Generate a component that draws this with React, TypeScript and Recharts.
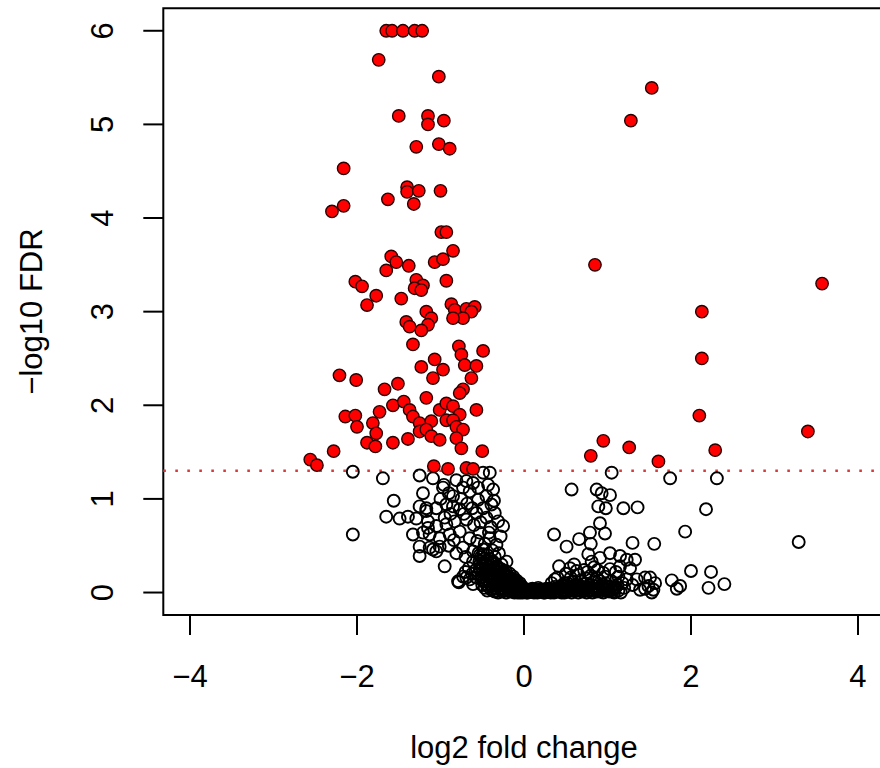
import { ReferenceArea, ReferenceLine, Scatter, ScatterChart, XAxis, YAxis } from "recharts";

// axis setup (R-style: limits padded by 4%)
const xTicks = [-4, -2, 0, 2, 4];
const yTicks = [0, 1, 2, 3, 4, 5, 6];
const xDomain: [number, number] = [-4.32, 4.32];
const yDomain: [number, number] = [-0.24, 6.24];
const fdrCutoff = 1.301;

// significant genes, [log2 fold change, -log10 FDR]
const sigDown: [number, number][] = [
  [-1.65, 6.0], [-1.58, 6.0], [-1.45, 6.0], [-1.31, 6.0], [-1.22, 6.0],
  [-1.74, 5.69], [-1.02, 5.51], [-1.5, 5.09], [-1.15, 5.09], [-1.15, 5.0], [-0.96, 5.04],
  [-1.29, 4.76], [-1.02, 4.79], [-0.89, 4.74], [-2.16, 4.53], [-1.4, 4.33], [-1.4, 4.28],
  [-1.26, 4.29], [-1.0, 4.29], [-1.63, 4.2], [-1.32, 4.15], [-2.16, 4.13], [-2.3, 4.07],
  [-0.99, 3.85], [-0.93, 3.85], [-0.85, 3.65], [-1.07, 3.53], [-0.97, 3.56], [-1.59, 3.59],
  [-1.53, 3.53], [-1.65, 3.44], [-1.38, 3.49], [-2.02, 3.32], [-1.94, 3.27], [-1.29, 3.34],
  [-1.21, 3.28], [-1.31, 3.25], [-1.23, 3.23], [-0.93, 3.33], [-1.77, 3.17], [-1.88, 3.07],
  [-1.47, 3.14], [-0.87, 3.08], [-0.83, 3.02], [-0.69, 3.03], [-0.59, 3.05], [-0.63, 3.0],
  [-0.73, 2.93], [-0.85, 2.93], [-1.17, 3.0], [-1.11, 2.93], [-1.15, 2.86], [-1.23, 2.8],
  [-1.41, 2.89], [-1.37, 2.84], [-1.33, 2.65], [-0.78, 2.63], [-0.75, 2.54], [-0.49, 2.58],
  [-1.07, 2.49], [-0.97, 2.38], [-1.09, 2.29], [-1.23, 2.41], [-0.71, 2.43], [-0.57, 2.42],
  [-0.63, 2.29], [-2.21, 2.32], [-2.01, 2.27], [-1.67, 2.17], [-1.51, 2.23], [-0.73, 2.17],
  [-0.77, 2.13], [-1.17, 2.08], [-1.57, 2.0], [-1.44, 2.04], [-1.37, 1.95], [-1.33, 1.88],
  [-1.25, 1.81], [-1.25, 1.72], [-1.11, 1.83], [-1.17, 1.74], [-1.01, 1.95], [-0.93, 2.02],
  [-0.85, 1.99], [-0.77, 1.9], [-0.93, 1.84], [-0.85, 1.84], [-0.81, 1.77], [-0.73, 1.74],
  [-0.57, 1.95], [-2.14, 1.88], [-2.02, 1.89], [-2.0, 1.77], [-1.73, 1.93], [-1.81, 1.81],
  [-1.77, 1.7], [-1.88, 1.6], [-1.78, 1.56], [-1.57, 1.6], [-1.39, 1.64], [-1.11, 1.67],
  [-1.01, 1.63], [-0.81, 1.65], [-0.75, 1.54], [-0.5, 1.51], [-2.28, 1.51], [-2.56, 1.42],
  [-2.48, 1.36], [-1.08, 1.35], [-0.91, 1.32], [-0.69, 1.33], [-0.61, 1.32],
];

const sigUp: [number, number][] = [
  [1.53, 5.39], [1.28, 5.04], [0.85, 3.5], [3.57, 3.3], [2.13, 3.0], [2.13, 2.5],
  [2.1, 1.89], [3.4, 1.72], [0.95, 1.62], [1.26, 1.55], [2.29, 1.52], [0.8, 1.46], [1.61, 1.4],
];

// not significant, left cloud
const nsLeft: [number, number][] = [
  [-2.05, 1.29], [-1.69, 1.22], [-1.56, 0.98], [-1.65, 0.81], [-1.49, 0.79], [-1.39, 0.81],
  [-1.29, 0.79], [-2.05, 0.62], [-1.25, 1.25], [-1.21, 1.06], [-1.25, 0.92], [-1.17, 0.9],
  [-1.33, 0.62], [-1.25, 0.49], [-1.25, 0.39], [-1.09, 1.22], [-0.96, 1.15], [-0.49, 1.28],
  [-0.41, 1.28], [-0.81, 1.2], [-0.69, 1.19], [-1.15, 0.69], [-1.13, 0.62], [-1.09, 0.46],
  [-1.01, 0.49], [-0.95, 0.28], [-0.78, 0.11], [-0.69, 0.16], [-0.61, 0.09], [-0.97, 1.12],
  [-0.65, 1.08], [-0.73, 1.12], [-0.61, 1.17], [-0.85, 1.03], [-0.93, 0.94], [-1.05, 0.9],
  [-0.85, 0.92], [-0.77, 0.89], [-0.55, 0.99], [-0.45, 1.03], [-0.39, 0.94], [-0.49, 0.9],
  [-0.57, 0.85], [-0.35, 0.85], [-0.31, 0.76], [-0.25, 0.71], [-1.17, 0.87], [-1.15, 0.76],
  [-1.21, 0.64], [-1.05, 0.71], [-0.93, 0.73], [-0.83, 0.76], [-0.69, 0.78], [-1.01, 0.58],
  [-0.89, 0.62], [-0.77, 0.65], [-0.65, 0.58], [-0.53, 0.64], [-0.41, 0.58], [-0.33, 0.51],
  [-1.13, 0.48], [-1.05, 0.44], [-0.81, 0.42], [-0.73, 0.48], [-0.61, 0.44], [-0.49, 0.46],
  [-0.61, 0.33], [-0.53, 0.26], [-0.45, 0.3], [-0.37, 0.33], [-0.27, 0.3], [-0.21, 0.33],
  [-0.79, 0.12], [-0.73, 0.17], [-0.65, 0.14], [-0.57, 0.16], [-0.49, 0.12], [-1.0, 1.0],
  [-0.9, 1.06], [-0.75, 1.0], [-0.68, 0.95], [-0.62, 0.9], [-0.72, 0.84], [-0.95, 0.8],
  [-0.88, 0.84], [-0.6, 0.72], [-0.52, 0.75], [-0.45, 0.8], [-0.4, 0.7], [-0.56, 0.55],
  [-0.47, 0.52], [-0.38, 0.45], [-0.3, 0.42], [-0.7, 0.38], [-0.9, 0.5], [-0.84, 0.56],
  [-0.43, 1.15], [-0.55, 1.12], [-0.37, 1.1], [-0.42, 0.64], [-0.28, 0.6], [-0.36, 0.98],
];

// not significant, dense core just left of zero
const nsCore: [number, number][] = [
  [-0.48, 0.36], [-0.46, 0.22], [-0.44, 0.4], [-0.43, 0.18], [-0.42, 0.27], [-0.41, 0.12],
  [-0.4, 0.35], [-0.39, 0.21], [-0.38, 0.08], [-0.37, 0.25], [-0.36, 0.15], [-0.35, 0.38],
  [-0.34, 0.05], [-0.33, 0.19], [-0.32, 0.28], [-0.31, 0.11], [-0.3, 0.22], [-0.29, 0.04],
  [-0.28, 0.16], [-0.27, 0.25], [-0.26, 0.09], [-0.25, 0.19], [-0.24, 0.02], [-0.23, 0.13],
  [-0.22, 0.23], [-0.21, 0.06], [-0.2, 0.16], [-0.19, 0.1], [-0.18, 0.02], [-0.17, 0.2],
  [-0.16, 0.08], [-0.15, 0.13], [-0.14, 0.03], [-0.13, 0.17], [-0.12, 0.06], [-0.11, 0.1],
  [-0.1, 0.01], [-0.09, 0.13], [-0.08, 0.05], [-0.07, 0.08], [-0.06, 0.02], [-0.05, 0.1],
  [-0.04, 0.04], [-0.03, 0.07], [-0.02, 0.01], [-0.01, 0.05], [-0.55, 0.2], [-0.52, 0.31],
  [-0.5, 0.08], [-0.47, 0.05], [-0.45, 0.14], [-0.53, 0.4], [-0.58, 0.24], [-0.62, 0.2],
  [-0.66, 0.26], [-0.7, 0.22], [-0.44, 0.02], [-0.39, 0.03], [-0.35, 0.01], [-0.31, 0.0],
  [-0.27, 0.03],
  [-0.545, 0.42], [-0.535, 0.33], [-0.525, 0.24], [-0.515, 0.38], [-0.505, 0.17], [-0.495, 0.29],
  [-0.485, 0.41], [-0.475, 0.13], [-0.465, 0.31], [-0.455, 0.24], [-0.445, 0.09], [-0.435, 0.34],
  [-0.425, 0.06], [-0.415, 0.2], [-0.405, 0.29], [-0.395, 0.14], [-0.385, 0.31], [-0.375, 0.04],
  [-0.365, 0.19], [-0.355, 0.27], [-0.345, 0.1], [-0.335, 0.22], [-0.325, 0.02], [-0.315, 0.16],
  [-0.305, 0.26], [-0.295, 0.08], [-0.285, 0.2], [-0.275, 0.12], [-0.265, 0.01], [-0.255, 0.15],
  [-0.245, 0.22], [-0.235, 0.07], [-0.225, 0.17], [-0.215, 0.0], [-0.205, 0.11], [-0.195, 0.18],
  [-0.185, 0.06], [-0.175, 0.13], [-0.165, 0.01], [-0.155, 0.09], [-0.145, 0.15], [-0.135, 0.05],
  [-0.125, 0.11], [-0.115, 0.0], [-0.105, 0.07], [-0.095, 0.03], [-0.085, 0.1], [-0.075, 0.0],
  [-0.065, 0.06], [-0.055, 0.03], [-0.045, 0.0], [-0.035, 0.05], [-0.025, 0.02], [-0.015, 0.0],
  [-0.005, 0.03],
];

// not significant, band along zero
const nsBand: [number, number][] = [
  [0.0, 0.02], [0.03, 0.0], [0.05, 0.03], [0.08, 0.01], [0.1, 0.04], [0.12, 0.0],
  [0.15, 0.02], [0.17, 0.05], [0.2, 0.01], [0.22, 0.03], [0.25, 0.0], [0.27, 0.04],
  [0.3, 0.02], [0.32, 0.0], [0.35, 0.03], [0.37, 0.06], [0.4, 0.01], [0.42, 0.04],
  [0.45, 0.0], [0.47, 0.02], [0.5, 0.05], [0.52, 0.01], [0.55, 0.03], [0.57, 0.0],
  [0.6, 0.04], [0.62, 0.02], [0.65, 0.0], [0.67, 0.05], [0.7, 0.01], [0.72, 0.03],
  [0.75, 0.0], [0.77, 0.06], [0.8, 0.02], [0.82, 0.0], [0.85, 0.04], [0.87, 0.01],
  [0.9, 0.03], [0.92, 0.07], [0.95, 0.0], [0.97, 0.02], [1.0, 0.05], [1.02, 0.01],
  [1.05, 0.03], [1.08, 0.0], [1.1, 0.06], [1.13, 0.02], [1.16, 0.0],
  [0.015, 0.01], [0.045, 0.0], [0.065, 0.02], [0.09, 0.03], [0.11, 0.01], [0.135, 0.03],
  [0.16, 0.0], [0.185, 0.03], [0.21, 0.02], [0.235, 0.0], [0.26, 0.02], [0.285, 0.01],
  [0.31, 0.04], [0.335, 0.02], [0.36, 0.0], [0.385, 0.04], [0.41, 0.02], [0.435, 0.06],
  [0.46, 0.03], [0.485, 0.0], [0.51, 0.07], [0.535, 0.04], [0.56, 0.06], [0.585, 0.02],
  [0.61, 0.08], [0.635, 0.03], [0.66, 0.07], [0.685, 0.02], [0.71, 0.06], [0.735, 0.04],
  [0.76, 0.02], [0.785, 0.08], [0.81, 0.05], [0.835, 0.02], [0.86, 0.07], [0.885, 0.04],
  [0.91, 0.01], [0.935, 0.05], [0.96, 0.03], [0.985, 0.07], [1.01, 0.03], [1.035, 0.06],
  [1.06, 0.01], [1.09, 0.04], [1.12, 0.08],
];

// not significant, right cloud
const nsRight: [number, number][] = [
  [0.33, 0.1], [0.46, 0.08], [0.58, 0.12], [0.7, 0.09], [0.74, 0.15], [0.83, 0.11],
  [0.9, 0.13], [0.98, 0.1], [1.05, 0.12], [0.62, 0.07], [0.52, 0.1],
  [0.4, 0.16], [0.5, 0.2], [0.56, 0.16], [0.68, 0.13], [0.76, 0.22], [0.88, 0.24],
  [0.97, 0.17], [1.1, 0.22], [1.18, 0.1], [0.8, 0.18], [0.63, 0.23],
  [0.36, 0.62], [0.51, 0.49], [0.66, 0.57], [0.79, 0.64], [0.91, 0.74], [0.97, 0.63],
  [0.8, 0.52], [1.3, 0.53], [1.56, 0.52], [0.42, 0.28], [0.55, 0.26], [0.65, 0.19],
  [0.77, 0.41], [0.81, 0.33], [0.91, 0.37], [1.03, 0.42], [1.15, 0.39], [1.23, 0.35],
  [1.33, 0.35], [1.15, 0.28], [1.27, 0.26], [1.03, 0.25], [0.95, 0.21], [0.87, 0.16],
  [1.13, 0.17], [1.23, 0.14], [1.35, 0.14], [1.45, 0.16], [1.49, 0.07], [1.55, 0.03],
  [1.53, 0.0], [1.39, 0.03], [0.37, 0.14], [0.49, 0.1], [0.61, 0.07], [1.51, 0.16],
  [1.57, 0.1], [1.77, 0.13], [1.87, 0.07], [1.83, 0.04], [2.0, 0.23], [2.24, 0.22],
  [2.21, 0.05], [2.4, 0.09], [1.05, 1.28], [1.75, 1.22], [2.31, 1.22], [0.57, 1.1],
  [0.87, 1.1], [0.93, 1.06], [1.03, 1.04], [0.89, 0.92], [0.98, 0.9], [1.19, 0.9],
  [1.36, 0.91], [2.18, 0.89], [1.93, 0.65], [3.29, 0.54], [1.45, 0.04], [1.3, 0.08],
  [1.2, 0.05], [0.72, 0.24], [0.6, 0.3], [0.84, 0.27],
];

const toRows = (pairs: [number, number][]) => pairs.map(([lfc, fdr]) => ({ lfc, fdr }));

const nsData = toRows([...nsLeft, ...nsCore, ...nsBand, ...nsRight]);
const sigData = toRows([...sigDown, ...sigUp]);

const FONT = "'Liberation Sans', Arial, Helvetica, sans-serif";
const FS = 31;

const fmt = (v: number) => (v < 0 ? "\u2212" + Math.abs(v) : String(v));

function XTick(props: any) {
  const { x, y, payload } = props;
  return (
    <text x={x} y={y + 50} textAnchor="middle" fontFamily={FONT} fontSize={FS} fill="#000">
      {fmt(payload.value)}
    </text>
  );
}

function YTick(props: any) {
  const { x, y, payload } = props;
  const tx = x - 28;
  return (
    <text x={tx} y={y} transform={`rotate(-90 ${tx} ${y})`} textAnchor="middle" fontFamily={FONT} fontSize={FS} fill="#000">
      {fmt(payload.value)}
    </text>
  );
}

const openDot = (p: any) => <circle cx={p.cx} cy={p.cy} r={6} fill="none" stroke="#000" strokeWidth={1.9} />;
const redDot = (p: any) => <circle cx={p.cx} cy={p.cy} r={6.2} fill="#ff0000" stroke="#2a0000" strokeWidth={1.4} />;

export default function App() {
  return (
    <div style={{ position: "absolute", left: 0, top: 0, width: 880, height: 768, overflow: "hidden", background: "#fff" }}>
      <ScatterChart width={900} height={768} margin={{ top: 8.3, right: 15.3, bottom: 0, left: 0 }}>
        <XAxis
          dataKey="lfc"
          type="number"
          domain={xDomain}
          ticks={xTicks}
          interval={0}
          allowDataOverflow
          axisLine={false}
          tickSize={20}
          tickLine={{ stroke: "#000", strokeWidth: 2 }}
          tick={<XTick />}
          height={153}
        />
        <YAxis
          dataKey="fdr"
          type="number"
          domain={yDomain}
          ticks={yTicks}
          interval={0}
          allowDataOverflow
          axisLine={false}
          tickSize={20}
          tickLine={{ stroke: "#000", strokeWidth: 2 }}
          tick={<YTick />}
          width={163.3}
        />
        <Scatter data={nsData} shape={openDot} isAnimationActive={false} />
        <Scatter data={sigData} shape={redDot} isAnimationActive={false} />
        <ReferenceLine y={fdrCutoff} stroke="#d63a3a" strokeWidth={2.6} strokeDasharray="2.6 9.4" />
        <ReferenceArea x1={xDomain[0]} x2={xDomain[1]} y1={yDomain[0]} y2={yDomain[1]} fill="none" stroke="#000" strokeWidth={2} ifOverflow="visible" />
      </ScatterChart>
      <svg width={880} height={768} style={{ position: "absolute", left: 0, top: 0, pointerEvents: "none" }}>
        <text x={524} y={758} textAnchor="middle" fontFamily={FONT} fontSize={FS} fill="#000">
          log2 fold change
        </text>
        <text x={42} y={311.5} transform="rotate(-90 42 311.5)" textAnchor="middle" fontFamily={FONT} fontSize={FS} fill="#000">
          {"\u2212log10 FDR"}
        </text>
      </svg>
    </div>
  );
}
